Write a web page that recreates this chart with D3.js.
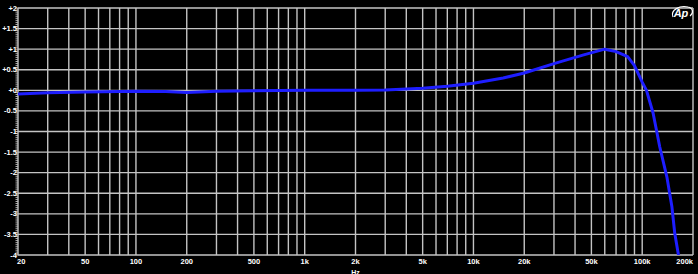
<!DOCTYPE html>
<html><head><meta charset="utf-8">
<script src="https://cdn.jsdelivr.net/npm/d3@7"></script>
<style>html,body{margin:0;padding:0;background:#000;}svg{display:block;}</style>
</head><body>
<svg id="chart" width="698" height="274"></svg>
<script>
const freqs = [20,30,50,100,150,200,300,500,1000,2000,3000,5000,7000,10000,15000,20000,30000,45000,60000,70000,82000,90000,100000,106000,116000,127000,140000,150000,156000,164000,168000];
const levels = [-0.09,-0.06,-0.04,-0.02,-0.03,-0.05,-0.02,-0.01,0.0,0.0,0.01,0.05,0.1,0.17,0.3,0.42,0.65,0.86,1.0,0.94,0.82,0.6,0.2,0.0,-0.55,-1.37,-2.1,-2.83,-3.48,-4.0,-4.3];
const xTickValues = [20,50,100,200,500,1000,2000,5000,10000,20000,50000,100000,200000];
const xTickLabels = ["20","50","100","200","500","1k","2k","5k","10k","20k","50k","100k","200k"];
const yTickValues = [2,1.5,1,0.5,0,-0.5,-1,-1.5,-2,-2.5,-3,-3.5,-4];
const yTickLabels = ["+2","+1.5","+1","+0.5","+0","-0.5","-1","-1.5","-2","-2.5","-3","-3.5","-4"];
const xTitle = "Hz";

const svg = d3.select("#chart");
const pL = 18, pR = 693, pT = 8, pB = 255;
const x = d3.scaleLog().domain([20,200000]).range([pL,pR]);
const y = d3.scaleLinear().domain([-4,2]).range([pB,pT]);

svg.append("rect").attr("width",698).attr("height",274).attr("fill","#000");

// vertical grid: 1..9 per decade
const vgrid = [];
for (let d = 10; d <= 100000; d *= 10) {
  for (let m = 1; m <= 9; m++) {
    const f = d*m;
    if (f >= 20 && f <= 200000) vgrid.push(f);
  }
}
const grid = svg.append("g").attr("stroke","#c4c4c4").attr("stroke-width",1.4);
grid.selectAll("line.v").data(vgrid).join("line")
  .attr("x1",d=>x(d)).attr("x2",d=>x(d)).attr("y1",pT).attr("y2",pB);
grid.selectAll("line.h").data(yTickValues).join("line")
  .attr("x1",pL).attr("x2",pR).attr("y1",d=>y(d)).attr("y2",d=>y(d));

// left minor ticks
const minor = d3.range(-4, 2.0001, 0.05);
svg.append("g").attr("stroke","#c4c4c4").attr("stroke-width",0.9)
  .selectAll("line").data(minor).join("line")
  .attr("x1",pL-2.5).attr("x2",pL).attr("y1",d=>y(d)).attr("y2",d=>y(d));

// y labels
svg.append("g").selectAll("text").data(yTickValues).join("text")
  .attr("x",pL-1).attr("y",d=>y(d)+2.5)
  .attr("text-anchor","end")
  .attr("fill","#fff").attr("font-family","Liberation Sans, Arial, sans-serif")
  .attr("font-size",7.5).attr("font-weight","bold")
  .text((d,i)=>yTickLabels[i]);

// x labels
svg.append("g").selectAll("text").data(xTickValues).join("text")
  .attr("x",(d,i)=> i===0 ? pL-1 : (i===xTickValues.length-1 ? pR : x(d)))
  .attr("y",264)
  .attr("text-anchor",(d,i)=> i===0 ? "start" : (i===xTickValues.length-1 ? "end" : "middle"))
  .attr("fill","#fff").attr("font-family","Liberation Sans, Arial, sans-serif")
  .attr("font-size",7.5).attr("font-weight","bold")
  .text((d,i)=>xTickLabels[i]);

svg.append("text").attr("x",(pL+pR)/2).attr("y",274.5).attr("text-anchor","middle")
  .attr("fill","#fff").attr("font-family","Liberation Sans, Arial, sans-serif")
  .attr("font-size",7).attr("font-weight","bold").text(xTitle);

// data line
svg.append("clipPath").attr("id","clip").append("rect")
  .attr("x",pL).attr("y",pT-5).attr("width",pR-pL+5).attr("height",pB-pT+5);
const line = d3.line().x((d,i)=>x(freqs[i])).y(d=>y(d)).curve(d3.curveLinear);
svg.append("path").datum(levels).attr("clip-path","url(#clip)")
  .attr("fill","none").attr("stroke","#1e1eff").attr("stroke-width",3)
  .attr("stroke-linejoin","round").attr("d",line);

// AP logo
const logo = svg.append("g").attr("transform","translate(682,13)");
logo.append("path").attr("d","M-9,4 C-12,-3 -2,-8 6,-6 C11,-5 12,0 8,3")
  .attr("fill","none").attr("stroke","#fff").attr("stroke-width",1.2);
logo.append("text").attr("x",-1).attr("y",4).attr("text-anchor","middle")
  .attr("fill","#fff").attr("font-family","Liberation Sans, Arial, sans-serif")
  .attr("font-size",11).attr("font-weight","bold").attr("font-style","italic").text("Ap");
</script>
</body></html>
